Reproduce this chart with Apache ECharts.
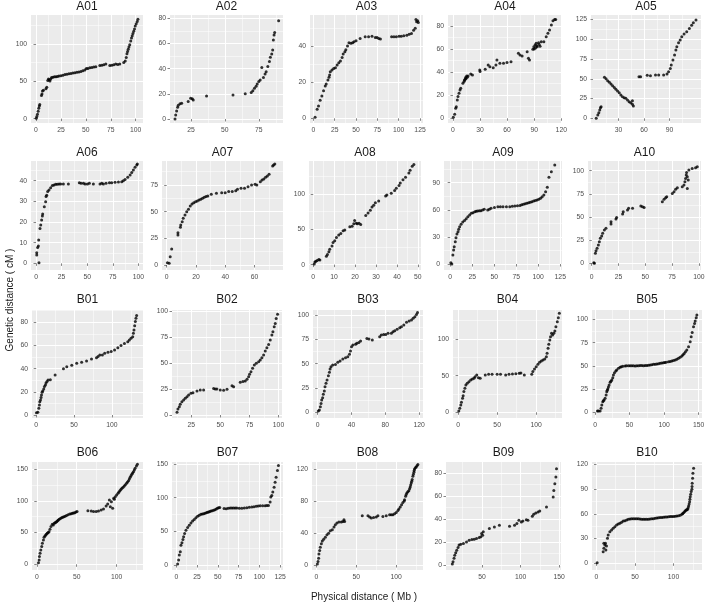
<!DOCTYPE html>
<html><head><meta charset="utf-8">
<script src="https://cdn.jsdelivr.net/npm/echarts@6/dist/echarts.min.js"></script>
<style>html,body{margin:0;padding:0;background:#fff}#c{width:708px;height:604px}</style>
</head><body><div id="c"></div>
<script>
// ---------------- DATA ----------------
const NAMES = ['A01','A02','A03','A04','A05','A06','A07','A08','A09','A10',
               'B01','B02','B03','B04','B05','B06','B07','B08','B09','B10'];

const A01 = [[0.3,0.5],[0.8,3],[1.5,6],[2.2,10],[2.8,14],[3.4,17],[3.8,19],[5.5,31],[6,33],[6.5,37],[7.5,38],[10,40],[10.8,42],[11.8,51],[12.5,53],[13.2,52],[14,50.5],[14.8,53],[15.6,55],[17,55.5],[18.5,56],[20,56],[21.5,56.5],[23,57],[25,57.5],[27,58],[29,59],[31,59.5],[33,60],[35,60.5],[37,61],[39,61.5],[41,62],[43,62.5],[45,63],[47,64],[49,65],[50.5,67],[52,67],[54,68],[56,68.5],[58,69],[60,69.5],[64,71],[66,71.5],[68,72],[70,73],[74,71],[76,71.5],[78,72],[80,73],[82,72.5],[84,73],[88,75],[89.5,77],[90.5,82],[91.2,87],[91.8,90],[92.5,93],[93.2,96],[94,99],[95,104],[95.8,108],[96.5,111],[97.2,114],[98,117],[98.8,120],[99.5,124],[100.5,127],[101.5,130],[102.2,133]];
const A02 = [[13.3,0],[13.8,3.2],[14.5,6.4],[15.2,9.3],[15.7,11],[17,12],[18.2,12.5],[23,13.8],[24.8,16.4],[26,16],[26.7,15],[36.5,18.3],[56,19],[65,20],[69.4,21],[70.6,22.5],[71.8,24.4],[73,26],[73.8,27.8],[75,29.7],[76,31],[77.2,40.8],[78.4,33],[79.6,35.8],[80.4,37.6],[81.6,41.6],[82.8,45.6],[83.5,49],[84.5,51.7],[85.2,54.8],[85.7,62.8],[86.2,66.8],[86.7,68.6],[89.6,78]];
const A03 = [[2,0.6],[4.4,5],[6,6.8],[7.9,10],[9.9,12.4],[11.9,15.3],[13.9,17.9],[15,19],[17,21.2],[18.3,22.7],[19,24],[19.8,25.8],[21.8,26.7],[23.8,27.6],[25.8,28],[27.8,29.5],[29.8,30.8],[31.7,31.7],[33.7,33.7],[34.9,35.6],[36.9,36.9],[38,38],[40,40],[41.7,41.8],[44,41.5],[46,41.8],[47.6,42.4],[50,43],[54.8,44.2],[60.7,45.2],[64.7,45.2],[68.7,45.5],[72.6,44.8],[74.6,44.8],[76.6,44.2],[78.6,43.9],[91.7,45.2],[94.4,45.2],[97.2,45.2],[100.4,45.5],[103,45.5],[106,45.7],[109.5,46],[112.3,46.5],[115,47],[117.5,48.8],[119.4,49.8],[121,53.5],[122.2,54],[123,53],[120.2,54.7]];
const A04 = [[0.4,0.9],[1.9,3.5],[3,8.7],[3.7,10],[4.8,15.9],[5.6,18.8],[6.7,21.7],[7.8,24.6],[8.6,26],[11,30.3],[12.3,31.8],[12.8,33],[13.4,33.8],[14,35.3],[14.5,34.5],[15.2,36.7],[15.8,35.5],[16.7,36.7],[19.7,38.4],[21.6,37.6],[29.7,41.9],[30,40.5],[35.7,42.5],[39,46.2],[40.9,44.8],[44.6,43.9],[47.6,46.2],[48.7,50.6],[52,47.7],[56,47.7],[59.9,48.3],[64.3,49.1],[72.5,56.4],[74.3,54.9],[76.6,54],[82.2,57.8],[83.6,52],[84.8,50.6],[88.5,59.8],[89.6,62],[90,60],[91,63.6],[91.5,61],[92.2,65],[92.8,63],[93.3,62],[94.8,65.6],[95.5,64],[96.5,62.5],[97.8,66.5],[100.7,66.5],[103.3,70.8],[105.2,73.7],[107,76.6],[109,81],[110.8,84.7],[112.6,85.8],[113.8,85.8]];
const A05 = [[3.7,0],[5.6,4.2],[6.8,7.2],[7.9,10.5],[8.7,13.5],[9.5,14.7],[13.4,51.8],[15.3,50.1],[17.2,47.6],[19.2,45.5],[21.1,43.4],[23,41.2],[25,39.1],[26.9,36.6],[28.8,34.5],[30.8,32.4],[32.7,29.5],[34.6,27.4],[36.6,26.1],[38.5,25.3],[40.5,23.1],[42.4,21],[44.3,19.8],[46.3,17.7],[47.4,15.6],[46.3,22.3],[54,52.6],[55.9,52.6],[63.7,54.3],[67.5,53.9],[73.4,54.7],[77.2,54.7],[83,54.7],[86.9,56],[88.8,58.9],[90.8,63.1],[91.9,67.3],[93.9,73.7],[95.8,80],[97.4,86.3],[98.5,90.5],[100.5,95.5],[102.4,98.9],[104.3,103.1],[107,106.5],[110.1,109.4],[113.2,113.6],[115.9,117.8],[117.9,120.8],[121,124.2]];
const A06 = [[0.7,4],[0.7,5.2],[1.6,7.7],[2.3,8.4],[2.6,11.3],[2.9,0.3],[3.9,16.9],[4.6,18.5],[5.5,21],[6.2,22.9],[6.5,23.9],[8.1,27.4],[9.4,29.8],[9.8,32.3],[10.4,33],[11.4,34.7],[12.7,35.5],[14.3,36.6],[16,37.6],[17.6,37.9],[19.2,38.2],[20.8,38.2],[22.5,38.4],[24.1,38.4],[26.7,38.4],[31.6,38.4],[42.3,39],[44,38.7],[46.3,38.7],[47.9,38.4],[50.2,38.4],[52.1,38.7],[56,38.4],[62.5,38.4],[64.2,38.7],[65.8,38.4],[68.4,38.7],[71.7,39],[73.9,39],[77.2,39.2],[80.5,39.4],[83.7,39.5],[85.3,40],[87,40.6],[89.6,41.6],[91.9,42.7],[93.5,43.9],[95.1,45.2],[96.7,46.5],[98.4,47.6],[99,48]];
const A07 = [[0.5,2.2],[1.7,1.6],[2.4,7.8],[3.4,15],[7.7,28],[7.7,30.3],[9.4,35.3],[9.6,37.5],[10.6,40.6],[11.3,43.8],[12.5,46.9],[13.7,50],[14.9,52.2],[16.1,55.3],[17.3,57.2],[18.5,58.4],[19.7,59.4],[20.9,60],[22.1,60.9],[23.3,61.6],[24.5,62.5],[25.7,63.4],[26.9,64.1],[28.1,64.7],[30.5,66.3],[34,67.2],[37.6,67.8],[40,67.8],[42.4,68.8],[44.8,68.8],[47.2,69.7],[48.4,70.9],[50.8,71.9],[53.2,71.9],[55.6,73.4],[58,75],[60.4,75.6],[61.6,75],[64,78.1],[65.2,79.7],[66.4,80.6],[67.6,82.2],[68.8,83.4],[70,85],[72.4,92.8],[73.1,93.8],[73.9,94.7]];
const A08 = [[0.5,1],[0.8,3.8],[1.3,4.8],[1.9,5.8],[2.7,7.2],[3.2,6.7],[6.3,12],[6.8,14.4],[7.5,18.3],[7.9,21.6],[9,26.4],[9.5,31.3],[10.3,33.7],[11.1,38.5],[12.2,41.8],[13.2,44.2],[14.3,48.1],[15.1,49],[17.5,53.8],[18.6,54.3],[19.4,57.7],[19.8,62.5],[20.6,58.7],[21.1,57.7],[21.9,58.7],[22.7,56.7],[25.1,69.7],[26.2,73.1],[27.3,76.9],[28.1,81.7],[28.9,84.1],[29.7,87.5],[31.3,89.9],[34.6,97.1],[35.2,98.6],[37.3,101],[38.9,104.8],[39.7,108.2],[41,112],[41.6,115.4],[42.9,120.2],[44.1,123.6],[45.7,129.8],[46.3,133.7],[47.3,139.4],[48.1,141.8]];
const A09 = [[0.8,1.5],[1.9,0],[3.1,10],[3.9,15.5],[4.6,19.2],[5.8,24.7],[6.6,29.2],[7.7,33.2],[8.9,35.8],[9.7,38.4],[10.8,41.3],[12.4,43.9],[14.3,46.5],[16.3,48.3],[18.2,50.2],[20.1,52.4],[22.1,54.2],[24,56.1],[25.9,56.8],[27.9,57.9],[29.5,58.3],[31,58.7],[33,58.9],[34.8,59],[36.8,59.7],[38.7,60.5],[42.6,59.8],[44.5,60.7],[46.4,61.6],[50.3,62.5],[54.2,63.5],[57,63.5],[60,63.5],[63.9,63.5],[67.7,63.5],[70.6,63.8],[73.5,64.2],[76.4,64.5],[79.3,64.9],[81.2,65.5],[83.2,66.1],[85.1,66.6],[87.1,67.2],[89,67.7],[90.9,68.3],[92.8,69],[94.8,69.7],[96.7,70.2],[98.7,70.8],[100.6,71.6],[102.6,72.7],[104.5,74.5],[106.4,76.4],[108.4,80.1],[110.3,84.9],[112.2,95.9],[114.9,102.2],[118.8,109.6]];
const A10 = [[1.9,0.7],[2.5,0],[3.4,10.8],[4,13.7],[5,16.2],[6.2,19.8],[7.1,23.4],[8,27],[9.3,29.5],[10.2,32.4],[11.8,36],[13.3,37.8],[18,42.4],[18,45],[22.6,47.8],[23.2,49.6],[28.8,53.2],[29.4,55.8],[33.4,57.6],[34.4,59.4],[38.1,59.4],[45.8,61.9],[47.4,61.2],[48.9,60.4],[65.9,66.5],[67.5,69.1],[69,70.9],[70,71.9],[75.2,75.5],[76.8,77.3],[78.3,79.9],[79.9,81.7],[84.5,82.7],[86.1,84.5],[87,88.1],[87.6,91.7],[88.2,95.3],[88.5,98.2],[89.2,93.5],[90.1,89.9],[90.7,100.7],[89.2,80.9],[93.8,102.5],[96.9,103.2],[98.5,104.3]];
const B01 = [[0.4,2],[2.2,2.3],[3.5,5.8],[4.3,8.6],[4.8,11.5],[5.7,12.9],[6.5,15],[7,17.3],[7.8,19.6],[8.7,20.7],[10,22.4],[10.9,24.5],[12.2,25.9],[13,27.6],[14.3,28.8],[15.7,30.2],[18.7,30.5],[25,34.5],[36,40],[40.4,41.7],[47,43],[53.5,44.6],[60,45.5],[66.5,46.6],[73,48.3],[79.6,49.5],[81.7,50.4],[84,51.8],[87.4,51.8],[90.4,53.2],[94.8,54.1],[99,54.7],[103.5,56.1],[107.8,58.1],[112,59.9],[116.5,61.6],[120.9,63.3],[123,64.7],[125.2,66.2],[127.4,67.6],[128.3,70.5],[129.1,73.4],[130,77.1],[130.9,80.6],[131.7,83.5],[132.6,85.8]];
const B02 = [[12.7,2.6],[13.5,5.8],[14.7,8],[15.5,10.3],[16.9,12.8],[18.4,14.4],[19.8,16],[21.3,17.6],[22.7,19.2],[24.7,20.8],[26.4,21.5],[29.9,23.1],[32.7,24],[35.6,24],[44.2,25.6],[45.6,25],[47,25],[49.9,24],[52.8,23.7],[55.7,24.7],[60,28.2],[61.4,27.2],[67.1,31.4],[69.4,32.1],[71.4,32.7],[72.9,34.3],[74.3,36.9],[75.1,39.1],[76.3,41.7],[77.7,44.9],[79.2,48.1],[80.9,49.7],[82.9,51.3],[84.3,52.9],[85.7,55.1],[87.2,57.7],[88.6,61.5],[90,64.7],[91.5,67.9],[92.9,72.1],[94.3,76.9],[95.2,80.1],[96.3,84.9],[97.2,88.1],[98,92.9],[99.2,96.8]];
const B03 = [[0.8,1.4],[2,2.4],[3.2,5.8],[4,9.2],[4.8,12.7],[5.9,15.1],[6.7,18.5],[7.9,21.9],[8.7,26.4],[9.9,29.8],[11.1,33.2],[12.7,37.7],[13.9,41.1],[14.7,44.5],[15.8,46.9],[17.8,48.6],[21,49.3],[23.8,51.4],[26.5,52.7],[29.7,54.8],[32.9,56.2],[35.6,57.2],[37.6,59.6],[38.8,63],[40,67.5],[41.6,69.2],[44.8,69.9],[46.3,70.9],[48.7,71.9],[50.7,73.3],[58.2,76],[60.6,75.3],[64.6,74.3],[73.3,77.7],[75.2,79.5],[78,80.1],[80.4,80.1],[83.2,81.2],[87.1,81.2],[89.1,82.9],[91.1,83.9],[93.9,85.3],[97,87],[99,88],[101.8,89.7],[105,92.5],[108.1,93.8],[110.9,94.9],[112.9,96.6],[114.9,98.3],[116.8,100.7],[118,102.7]];
const B04 = [[0.9,1.8],[2.2,5.5],[3.5,10],[4.3,13.6],[5.7,19.1],[6.5,22.7],[7.4,28.2],[8.7,32.7],[10,37.3],[11.7,39.5],[13.9,41.8],[16.1,44.1],[18.3,45.5],[20.4,46.4],[21.7,48.6],[23.9,50.9],[26.1,47.3],[28.3,46.4],[34.8,50.9],[39.1,51.8],[43.5,51.8],[50,51.8],[54.3,51.8],[60.9,50.9],[65.2,51.8],[69.6,52.3],[73.9,52.7],[78.3,53.2],[80.4,53.6],[84.8,50.9],[94.3,51.8],[95.7,55.5],[97.8,59.1],[100,62.3],[102.2,65.5],[104.3,68.2],[106.5,70],[108.7,71.4],[110.9,72.7],[113,75.9],[113.9,80.5],[115.2,87.3],[116.1,92.7],[117.4,98.6],[118.3,103.2],[119.6,107.7],[120.9,105.5],[122.6,107.7],[123.9,110.9],[125.2,116.8],[127,123.6],[128.3,129.1],[129.6,135]];
const B05 = [[3.4,1.4],[4.8,1.4],[7.3,1.4],[8.7,4.3],[9.7,7.9],[11.1,11.5],[12,12.4],[13.1,13.3],[14.5,15.1],[16,18.6],[16.9,22.2],[17.6,23.8],[18.4,25.1],[19.3,27.2],[20.3,29.4],[21.8,32.3],[22.9,33.5],[24.2,34.8],[25.6,37.3],[26.6,40.1],[28.1,42.7],[30,44.4],[31.4,45.5],[33.9,47.3],[36.3,48.4],[38,49],[40.2,49.5],[43.5,49.8],[45.5,50],[48.4,50.2],[50.8,50.2],[53.2,50.2],[55.6,50],[58.1,49.8],[60.5,50],[62.9,50.2],[65.3,50.4],[67.7,50.5],[70.2,50.2],[72.6,50.3],[75,50.5],[77.4,50.7],[79.8,50.9],[82.2,51.2],[84.7,51.6],[87.1,51.8],[89.5,52],[91.9,52.3],[94.3,52.7],[96.7,53],[99.2,53.4],[101,53.6],[103,53.8],[106.4,54.5],[108.8,54.8],[111.2,55.2],[113.6,55.7],[116.1,56.3],[118.5,57.2],[120.9,58.1],[123.3,59.3],[125.8,60.6],[127.5,62],[129.2,63.4],[131,65.2],[133,67],[135.5,70.6],[137.9,76],[139.3,81.4],[140.8,86],[142.7,92.1],[144.2,95.7],[145.1,98.2],[146.6,101.8],[147.6,104.7]];
const B06 = [[2.1,2.6],[2.9,6.8],[3.3,12.1],[4.1,17.3],[5,22.5],[6.2,27.8],[7,33],[8.3,38.3],[9.1,42.5],[10.2,44.5],[11.2,46.1],[12.2,47.5],[13.2,48.8],[14.3,50.1],[15.3,51.4],[16.5,55.1],[17.8,59.3],[19.4,62.9],[20.7,61.9],[21.9,64.5],[22.9,65.3],[24,66.1],[25,67.4],[26,68.7],[27,69.8],[28.1,70.8],[29.5,72.1],[31,73.4],[32.4,74.2],[33.9,75],[35.5,75.8],[37.2,76.6],[39.2,77.9],[41.3,79.2],[43,79.7],[44.6,80.2],[46,80.8],[47.5,81.3],[49,82.1],[50.4,82.9],[64,84.4],[68.2,83.9],[71.1,82.9],[74.4,82.9],[77.3,83.9],[80.6,85.5],[83.5,87],[86.8,91.8],[88.8,94.9],[90.9,101.2],[92.1,90.7],[93.4,98.6],[95,88.1],[96.3,103.8],[97.1,102.3],[98.3,106.4],[100,109.1],[101.7,111.7],[102.9,113.8],[104.1,115.9],[105.3,117.7],[106.6,119.6],[108,121.4],[109.5,123.2],[110.9,125.3],[112.4,127.4],[113.6,129.5],[114.9,131.6],[115.9,134.2],[116.9,136.9],[118,139.2],[119,141.6],[120,143.7],[121.1,145.8],[122.1,148.4],[123.1,151],[124.8,154.7],[126,157.3]];
const B07 = [[1.6,1.5],[2.8,7.4],[3.6,14.8],[4.8,19.7],[5.6,29.5],[6.8,33],[8,37.9],[8.8,41.8],[10,46.7],[11.6,51.6],[13.6,55.6],[15.6,59],[17.6,62.5],[19.6,65.4],[21.6,67.4],[23.6,70.3],[25.6,72.3],[27.6,73.8],[29.6,75.3],[31.2,75.7],[32.9,76.2],[34.5,77],[36.1,77.7],[37.5,78.2],[38.9,78.7],[40.3,79.5],[41.7,80.2],[43.3,80.7],[44.9,81.2],[46.5,82.2],[48.1,83.1],[49.5,84.1],[50.9,85.1],[52.3,85.5],[57.5,83.8],[60.1,83.6],[62.5,84.1],[64.9,84.6],[66.9,84.6],[68.9,84.6],[70.9,84.6],[72.9,84.6],[75.9,84.3],[78.9,84.1],[81.9,84.6],[84.9,85.1],[87.9,85.6],[90.9,86.1],[93.5,86.6],[96.2,87.1],[98.6,87.6],[101,88],[104,88],[107,88],[109,88.3],[111,88.5],[113,93.5],[113.8,100.8],[115,103.3],[116.2,108.2],[117.8,115.6],[119,123],[120.2,130.3],[121.8,140.2],[123,147.6]];
const B08 = [[1.3,1.3],[2.1,4.2],[2.9,8.4],[3.3,13.8],[4.2,18],[5,22.2],[6.3,26.4],[7.5,30.1],[9.2,32.2],[11.3,34.7],[13.3,37.7],[15.4,39.7],[17.5,42.7],[20,43.9],[22.1,47.3],[23.8,50.2],[25.8,52.3],[28.3,53.6],[31.3,53.6],[33.3,54.4],[34.6,56.5],[35.4,54.4],[57.5,61.5],[64.6,61.5],[66.7,59.8],[68.8,58.6],[71.7,59.4],[75,59.8],[77.1,61.5],[83.3,60.7],[87.5,61.5],[91.7,62.8],[93.8,62.8],[95.8,62.8],[97.9,64],[100,65.7],[102.1,68.2],[103.3,69.9],[105,72.4],[106.7,75.3],[108.3,78.2],[110,80],[110.4,81.6],[111.7,85.8],[112.5,88],[113.3,90],[114.5,91.5],[115.8,92.9],[116.7,95.2],[117.5,97.5],[118.1,100],[118.8,102.5],[119.4,104.6],[120,106.7],[120.8,110.9],[121.5,113.4],[122.1,115.9],[122.5,118],[122.9,120.1],[124,121.4],[125,122.6],[126,124],[127.1,125.5]];
const B09 = [[11.7,0.9],[12.6,2.9],[13.9,5.8],[14.8,8.6],[16.1,10.6],[17.4,12.9],[19.1,15.3],[20.4,17.3],[22.6,18.1],[26.1,18.7],[30,20.1],[33.5,21.6],[37,22.2],[40,22.4],[43,23],[46.5,23.9],[48.7,24.5],[49.6,27.3],[50.9,25.9],[51.7,28.8],[59.6,31.7],[66.1,33.1],[72.6,34.5],[85.7,33.7],[92.2,34.5],[95.2,36],[97.8,38.8],[101,37.4],[103,38.3],[107.4,39.4],[109.6,38.8],[115.2,42.3],[117,44],[119.6,45.2],[122.6,46],[124.8,46.9],[133.5,50.4],[142.2,59],[143,64.7],[144.3,70.5],[145.7,76.3],[146.5,83.5]];
const B10 = [[0.9,0.8],[8.7,14.1],[9.6,18.2],[10.9,22.2],[11.7,24.2],[9.6,24.2],[12.2,16.2],[13,21],[14.3,30.3],[15.2,34.3],[17.4,38.4],[19.6,40.4],[21.7,42.4],[23.9,44.4],[26.1,46.5],[28.3,47.7],[30.4,48.5],[32.6,49.7],[34.8,51.3],[37,51.7],[39.2,52.5],[41.3,53.3],[43.5,53.7],[45.6,53.9],[47.8,54.1],[50,54.1],[52.2,54.1],[54.3,53.9],[56.5,53.7],[58.7,53.5],[60.9,53.3],[63,53.3],[65.2,53.3],[67.4,53.5],[69.6,53.7],[71.8,53.9],[73.9,54.1],[76.1,54.6],[78.3,55],[80.4,55.2],[82.6,55.4],[84.8,55.6],[87,55.8],[89.1,56],[91.3,56.2],[93.5,56.4],[95.7,56.6],[97.8,56.6],[100,56.6],[102.2,57],[104.3,57.4],[106.5,57.8],[108.7,58.2],[110.9,59.4],[112,60.4],[113,61.4],[114.3,62.6],[115.4,63.6],[116.5,64.6],[117.4,65],[118.3,65.5],[119,67.5],[119.6,69.5],[120.3,72],[120.9,74.7],[121.3,77.7],[121.7,80.8],[122.3,83.8],[123,86.9],[123.9,89.7],[124.1,93],[124.3,97],[124.8,103],[125.2,109.1],[126.1,115.2]];

// tick labels (major breaks) per panel, same order as NAMES
const X_TICKS = [[0,25,50,75,100],[25,50,75],[0,25,50,75,100,125],[0,30,60,90,120],[30,60,90],
                 [0,25,50,75,100],[0,20,40,60],[0,10,20,30,40,50],[0,25,50,75,100,125],[0,25,50,75,100],
                 [0,50,100],[25,50,75,100],[0,40,80,120],[0,50,100],[0,50,100,150],
                 [0,50,100],[0,25,50,75,100,125],[0,50,100],[50,100,150],[0,50,100]];
const Y_TICKS = [[0,50,100],[0,20,40,60,80],[0,20,40],[0,20,40,60,80],[0,25,50,75,100,125],
                 [0,10,20,30,40],[0,25,50,75],[0,50,100],[0,30,60,90],[0,25,50,75,100],
                 [0,20,40,60,80],[0,25,50,75,100],[0,25,50,75,100],[0,50,100],[0,25,50,75,100],
                 [0,50,100,150],[0,50,100,150],[0,40,80,120],[0,20,40,60,80],[0,30,60,90,120]];
// axis limits
const X_LIM = [[-5,107.3],[9.6,92.8],[-4,128.5],[-5.5,120.8],[-2.4,126.9],
               [-4.9,104.5],[-3.2,79.5],[-2,51.5],[-7,127],[-3.5,102],
               [-5.5,141],[8.4,103],[-5.5,124.5],[-6.5,133],[-4.5,155],
               [-6,133],[-5.2,128.5],[-5.4,133.5],[3.5,152.3],[-5.8,137]];
const Y_LIM = [[-5.8,138.7],[-3.2,82.6],[-2.6,57.2],[-4.1,89.6],[-5.9,130.6],
               [-3.2,49.5],[-4.7,97.5],[-7.6,146.7],[-6.6,114],[-7.2,110.5],
               [-2.6,90.6],[-2.9,101],[-5.8,105.2],[-7.8,139.6],[-6.1,110.1],
               [-9,161],[-7.4,152.9],[-6.3,128.7],[-4.3,89.4],[-8.1,122.8]];

// ---------------- LAYOUT ----------------
const DATA = [A01,A02,A03,A04,A05,A06,A07,A08,A09,A10,B01,B02,B03,B04,B05,B06,B07,B08,B09,B10];
const LEFT  = [31,170,310,448,591, 31,162,309,444,588, 32,172,313,453,592, 32,172,312,446,592];
const RIGHT = [143,283,423,562,701, 143,283,421,562,701, 143,282,423,562,702, 143,283,423,561,702];
const ROW_TOP = [15,161,310,462], ROW_BOTTOM = [123,270,418,570], TITLE_Y = [7,153,300,453];
const FONT = '"Liberation Sans", Arial, Helvetica, sans-serif';

function minors(t, lo, hi) {
  if (t.length < 2) return [];
  const s = t[1] - t[0], out = [];
  for (let v = t[0] - s / 2; v <= t[t.length - 1] + s / 2 + 1e-9; v += s) {
    if (v >= lo && v <= hi) out.push(v);
  }
  return out;
}

const option = { animation: false, grid: [], xAxis: [], yAxis: [], series: [], graphic: [] };

NAMES.forEach((name, i) => {
  const r = Math.floor(i / 5);
  const left = LEFT[i], right = RIGHT[i], top = ROW_TOP[r], bottom = ROW_BOTTOM[r];
  option.grid.push({ left: left, top: top, width: right - left, height: bottom - top,
    show: true, backgroundColor: '#EBEBEB', borderWidth: 0, containLabel: false });
  const [xmin, xmax] = X_LIM[i], [ymin, ymax] = Y_LIM[i];
  const xt = X_TICKS[i], yt = Y_TICKS[i];
  const xm = minors(xt, xmin, xmax), ym = minors(yt, ymin, ymax);
  const lab = { fontSize: 6.8, color: '#4d4d4d', fontFamily: FONT, margin: 4 };
  option.xAxis.push({ type: 'value', gridIndex: i, min: xmin, max: xmax, position: 'bottom',
    axisLine: { show: false },
    axisTick: { show: true, length: 2.5, lineStyle: { color: '#333', width: 0.6 }, customValues: xt },
    axisLabel: Object.assign({ show: true, customValues: xt }, lab),
    splitLine: { show: true, lineStyle: { color: '#ffffff', width: 1 } } });
  option.xAxis.push({ type: 'value', gridIndex: i, min: xmin, max: xmax, position: 'top',
    axisLine: { show: false },
    axisTick: { show: false, customValues: xm },
    axisLabel: { show: false, customValues: xm },
    splitLine: { show: true, lineStyle: { color: '#ffffff', width: 0.5 } } });
  option.yAxis.push({ type: 'value', gridIndex: i, min: ymin, max: ymax, position: 'left',
    axisLine: { show: false },
    axisTick: { show: true, length: 2.5, lineStyle: { color: '#333', width: 0.6 }, customValues: yt },
    axisLabel: Object.assign({ show: true, customValues: yt }, lab),
    splitLine: { show: true, lineStyle: { color: '#ffffff', width: 1 } } });
  option.yAxis.push({ type: 'value', gridIndex: i, min: ymin, max: ymax, position: 'right',
    axisLine: { show: false },
    axisTick: { show: false, customValues: ym },
    axisLabel: { show: false, customValues: ym },
    splitLine: { show: true, lineStyle: { color: '#ffffff', width: 0.5 } } });
  option.series.push({ type: 'scatter', name: name, xAxisIndex: 2 * i, yAxisIndex: 2 * i,
    data: DATA[i], symbol: 'circle', symbolSize: 3, itemStyle: { color: '#000000' }, silent: true, z: 5 });
  option.graphic.push({ type: 'text', x: (left + right) / 2, y: TITLE_Y[r], silent: true,
    style: { text: name, fill: '#1a1a1a', font: '12px ' + FONT, textAlign: 'center', textVerticalAlign: 'middle', verticalAlign: 'middle' } });
});

option.graphic.push({ type: 'text', x: 364, y: 597, silent: true,
  style: { text: 'Physical distance ( Mb )', fill: '#1a1a1a', font: '10px ' + FONT, textAlign: 'center', textVerticalAlign: 'middle', verticalAlign: 'middle' } });
option.graphic.push({ type: 'text', x: 10, y: 300, rotation: Math.PI / 2, silent: true,
  style: { text: 'Genetic distance ( cM )', fill: '#1a1a1a', font: '10px ' + FONT, textAlign: 'center', textVerticalAlign: 'middle', verticalAlign: 'middle' } });

const chart = echarts.init(document.getElementById('c'), null, { renderer: 'canvas' });
chart.setOption(option);
</script>
</body></html>
